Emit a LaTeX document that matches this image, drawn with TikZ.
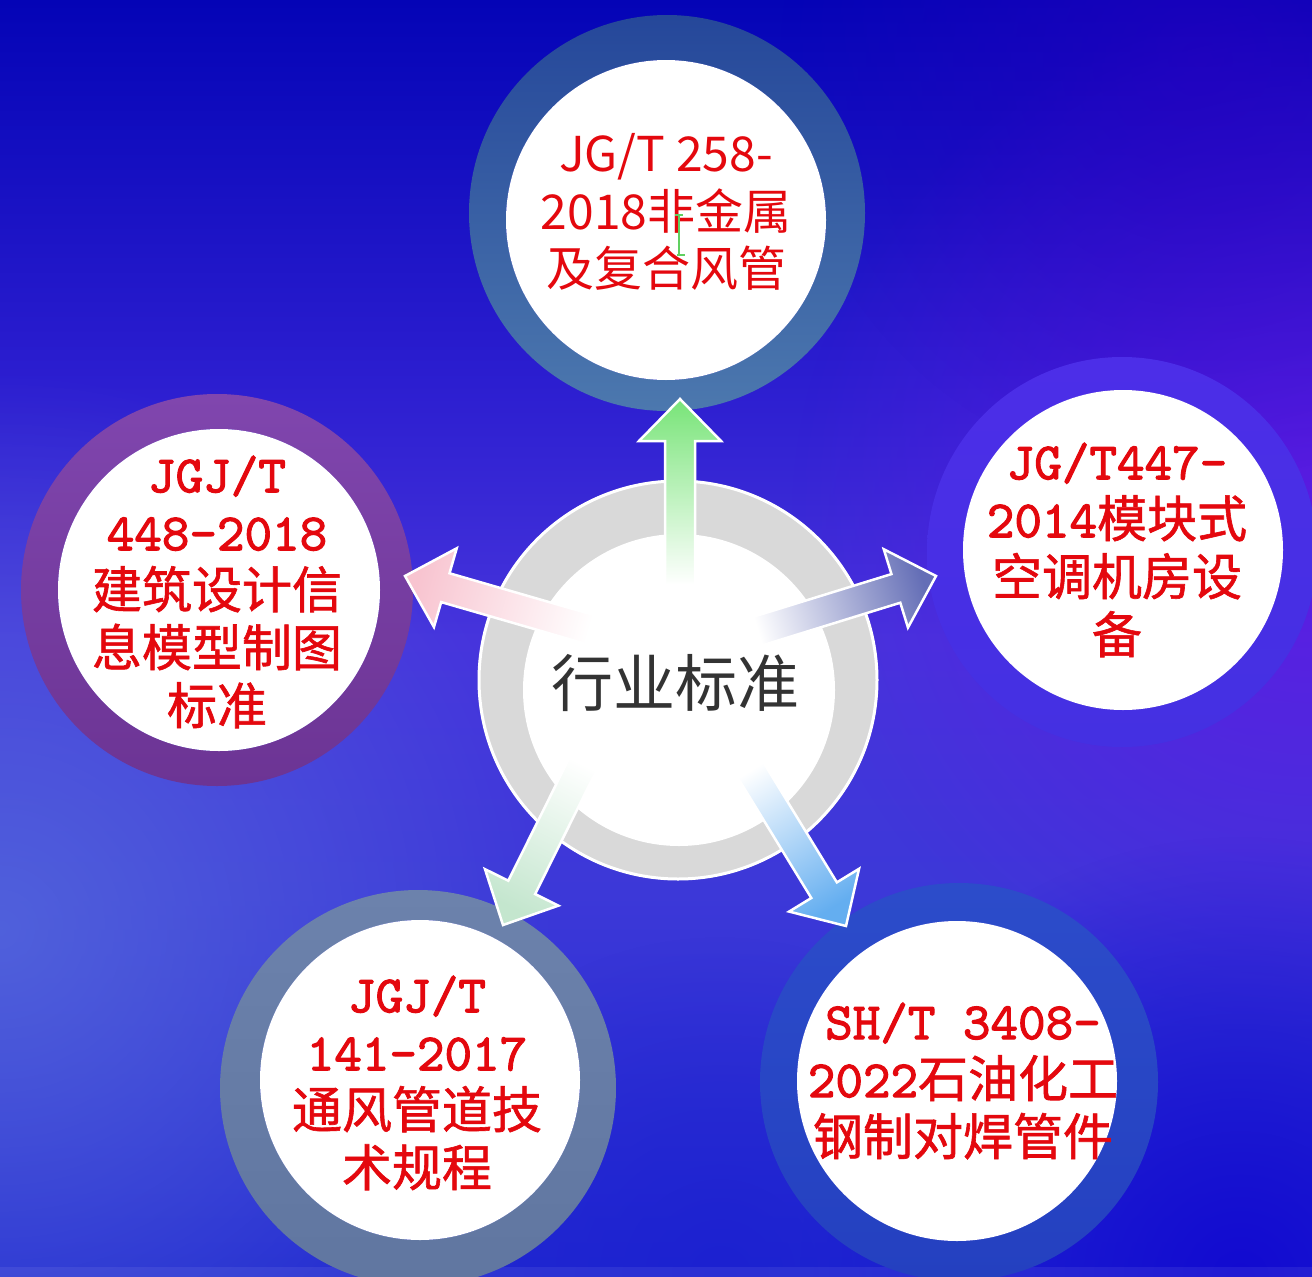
\documentclass[tikz,border=0pt]{standalone}
\usepackage{fontspec}
\usetikzlibrary{calc,fadings}
\newfontfamily\cjk{Noto Sans CJK SC}
\newfontfamily\cjkb{Noto Sans CJK SC}[FakeBold=1.2]
\newfontfamily\monof{lmmono10-regular.otf}[FakeBold=2]
\definecolor{bgA}{HTML}{0404B6}
\definecolor{bgB}{HTML}{2C1ED0}
\definecolor{bgC}{HTML}{4634DC}
\definecolor{bgD}{HTML}{3C38D8}
\definecolor{bgE}{HTML}{2028D0}
\pgfdeclareverticalshading{bgshade}{100bp}{color(0bp)=(bgE); color(25bp)=(bgE); color(40bp)=(bgD); color(50bp)=(bgC); color(60bp)=(bgB); color(75bp)=(bgA); color(100bp)=(bgA)}
\definecolor{txtred}{RGB}{228,8,14}
\definecolor{hubgray}{HTML}{D9D9D9}
\definecolor{hubtext}{HTML}{333333}
\tikzfading[name=glowfade, inner color=transparent!0, outer color=transparent!100]
\newcommand\lt[1]{{\monof\fontsize{52.5}{58}\selectfont #1}}
\newcommand\ck[1]{{\cjkb\fontsize{50}{58}\selectfont #1}}
% fat arrow: tail, tip, colour, shading angle
\newcommand\fatarrow[4]{%
  \coordinate (ab) at ($(#2)!42pt!(#1)$);
  \shadedraw[draw=white, line width=2.5pt, line join=miter,
    bottom color=white, top color=#3, shading angle=#4]
    ($(#1)!15pt!90:(#2)$) -- ($(ab)!15pt!90:(#2)$) -- ($(ab)!41pt!90:(#2)$)
    -- (#2) -- ($(ab)!41pt!-90:(#2)$) -- ($(ab)!15pt!-90:(#2)$)
    -- ($(#1)!15pt!-90:(#2)$) -- cycle;
}
\begin{document}
\begin{tikzpicture}[x=1pt,y=-1pt,
  ringwhite/.style={circle, fill=white, inner sep=0pt},
  sidetext/.style={align=center, text=txtred, inner sep=0pt, font=\fontsize{50}{58}\selectfont}]
\useasboundingbox (0,0) rectangle (1312,1277);
% background
\shade[shading=bgshade] (0,0) rectangle (1312,1277);
\fill[color={rgb,255:red,84;green,104;blue,220}, path fading=glowfade, opacity=0.85] (0,930) circle (560);
\fill[color={rgb,255:red,96;green,24;blue,228}, path fading=glowfade, opacity=0.85] (1312,520) circle (520);
\fill[color={rgb,255:red,18;green,10;blue,208}, path fading=glowfade] (1240,1277) circle (440);
\fill[color={rgb,255:red,26;green,30;blue,208}, path fading=glowfade, opacity=0.7] (720,1277) circle (340);
\fill[color={rgb,255:red,40;green,0;blue,192}, path fading=glowfade, opacity=0.6] (1200,60) circle (420);
\fill[white, opacity=0.07] (0,1267) rectangle (1312,1277);

% outer circles (rings)
\shade[even odd rule, top color={rgb,255:red,37;green,71;blue,154}, bottom color={rgb,255:red,76;green,120;blue,174}]
  (667,213) circle (198) (666,220) circle (160);
\node[ringwhite, minimum size=320pt] (top) at (666,220) {};
\shade[even odd rule, top color={rgb,255:red,128;green,70;blue,174}, bottom color={rgb,255:red,108;green,52;blue,148}]
  (217,590) circle (196) (219,590) circle (161);
\node[ringwhite, minimum size=322pt] (left) at (219,590) {};
\shade[even odd rule, top color={rgb,255:red,76;green,46;blue,232}, bottom color={rgb,255:red,68;green,48;blue,226}]
  (1122,552) circle (195) (1123,550) circle (160);
\node[ringwhite, minimum size=320pt] (right) at (1123,550) {};
\shade[even odd rule, top color={rgb,255:red,108;green,130;blue,172}, bottom color={rgb,255:red,96;green,118;blue,160}]
  (418,1088) circle (198) (420,1080) circle (160);
\node[ringwhite, minimum size=320pt] (bl) at (420,1080) {};
\shade[even odd rule, top color={rgb,255:red,44;green,76;blue,202}, bottom color={rgb,255:red,36;green,64;blue,192}]
  (959,1082) circle (199) (957,1081) circle (160);
\node[ringwhite, minimum size=320pt] (br) at (957,1081) {};

% hub
\fill[hubgray] (678,680) circle (200);
\draw[white, line width=3pt] (678,680) circle (199);
\node[ringwhite, minimum size=312pt] (hub) at (679,690) {};

% texts
\node[align=center, text=txtred, inner sep=0pt, font=\cjk\fontsize{48}{57.5}\selectfont] (toptext) at (666,212)
  {JG/T 258-\\2018非金属\\及复合风管};
\draw[color={rgb,255:red,96;green,208;blue,96}, line width=1.2pt]
  (675,215) -- (683,215) (679,215) -- (679,255) (677,255) -- (685,255);
\node[sidetext] (lefttext) at (217,592) {\lt{JGJ/T}\\\lt{448-2018}\\\ck{建筑设计信}\\\ck{息模型制图}\\\ck{标准}};
\node[sidetext] (righttext) at (1117,550) {\lt{JG/T447-}\\\lt{2014}\ck{模块式}\\\ck{空调机房设}\\\ck{备}};
\node[sidetext] (bltext) at (417,1083) {\lt{JGJ/T}\\\lt{141-2017}\\\ck{通风管道技}\\\ck{术规程}};
\node[sidetext] (brtext) at (963,1081) {\lt{SH/T 3408-}\\\lt{2022}\ck{石油化工}\\\ck{钢制对焊管件}};

% arrows
\coordinate (tUp) at (680,585);   \coordinate (pUp) at (680,399);
\coordinate (tL) at (602,633);    \coordinate (pL) at (405,576);
\coordinate (tR) at (745,635);    \coordinate (pR) at (936,576);
\coordinate (tLL) at (590,750);   \coordinate (pLL) at (503,925);
\coordinate (tLR) at (742,756);   \coordinate (pLR) at (846,926);
\fatarrow{tUp}{pUp}{{rgb,255:red,120;green,228;blue,120}}{0}
\fatarrow{tL}{pL}{{rgb,255:red,248;green,196;blue,208}}{73.9}
\fatarrow{tR}{pR}{{rgb,255:red,100;green,110;blue,182}}{-72.8}
\fatarrow{tLL}{pLL}{{rgb,255:red,196;green,230;blue,206}}{153.6}
\fatarrow{tLR}{pLR}{{rgb,255:red,100;green,174;blue,240}}{-148.5}

\node[font=\cjk\fontsize{62}{70}\selectfont, text=hubtext, inner sep=0pt] (hubtext) at (675,683) {行业标准};
\end{tikzpicture}
\end{document}
